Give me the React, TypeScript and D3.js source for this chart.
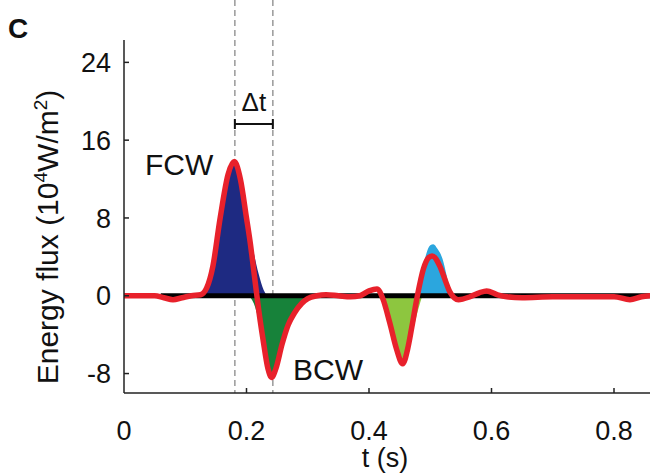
import React from "react";
import * as d3 from "d3";

type P = [number, number];

// Net energy flux (red line)
const netFlux: P[] = [
  [0, 0], [0.05, 0], [0.065, -0.2], [0.08, -0.4], [0.095, -0.2], [0.11, 0], [0.125, 0.1],
  [0.135, 0.8], [0.145, 3], [0.157, 8], [0.17, 12.5], [0.18, 13.8], [0.19, 12], [0.2, 8],
  [0.206, 5.5], [0.214, 1.5], [0.22, -1.5], [0.227, -4.5], [0.235, -7.5], [0.241, -8.4],
  [0.248, -7.5], [0.258, -5], [0.268, -3], [0.278, -1.8], [0.29, -0.8], [0.3, -0.3],
  [0.315, 0], [0.33, 0.1], [0.35, 0], [0.37, -0.1], [0.385, 0], [0.4, 0.5], [0.413, 0.7],
  [0.422, -0.2], [0.434, -2.8], [0.445, -5.5], [0.455, -7], [0.463, -5.5], [0.47, -3.2],
  [0.479, 0], [0.489, 2.8], [0.497, 3.9], [0.503, 4.1], [0.516, 3], [0.525, 1.5],
  [0.532, 0.4], [0.546, -0.4], [0.565, -0.1], [0.58, 0.3], [0.592, 0.5], [0.61, 0.1],
  [0.625, -0.1], [0.65, -0.2], [0.7, -0.1], [0.75, -0.1], [0.8, -0.1], [0.826, -0.4],
  [0.845, -0.1], [0.86, 0],
];

// Forward compression wave (navy fill)
const fcw: P[] = [
  [0.125, 0], [0.135, 0.8], [0.145, 3], [0.157, 8], [0.17, 12.5], [0.18, 13.6], [0.19, 12],
  [0.2, 8.5], [0.21, 5], [0.22, 2.2], [0.228, 0.6], [0.234, 0],
];

// Backward compression wave (dark green fill)
const bcw: P[] = [
  [0.203, 0], [0.212, -0.8], [0.22, -2.5], [0.227, -4.5], [0.235, -7.3], [0.241, -8.3],
  [0.248, -7.5], [0.258, -5], [0.268, -3], [0.278, -1.8], [0.29, -0.8], [0.3, -0.3], [0.31, 0],
];

// Second backward wave (light green fill)
const bw2: P[] = [
  [0.413, 0], [0.425, -1], [0.434, -2.8], [0.445, -5.3], [0.455, -6.9], [0.463, -5.5],
  [0.472, -3.5], [0.48, -1.5], [0.487, 0],
];

// Second forward wave (light blue fill)
const fw2: P[] = [
  [0.48, 0], [0.486, 2], [0.493, 4.2], [0.5, 5.2], [0.505, 5.3], [0.512, 4.8], [0.52, 3.8],
  [0.527, 2], [0.532, 0.5], [0.535, 0],
];

const xTicks = [0, 0.2, 0.4, 0.6, 0.8];
const yTicks = [-8, 0, 8, 16, 24];
const markers = [0.181, 0.243];

export default function App() {
  const W = 650, H = 476;
  const x = d3.scaleLinear().domain([0, 0.86]).range([124, 650.75]);
  const y = d3.scaleLinear().domain([-10, 26.3]).range([393, 40]);

  const area = d3.area<P>().x(d => x(d[0])).y0(y(0)).y1(d => y(d[1])).curve(d3.curveMonotoneX);
  const line = d3.line<P>().x(d => x(d[0])).y(d => y(d[1])).curve(d3.curveMonotoneX);

  const font = "'Liberation Sans', Arial, sans-serif";
  const x0 = x(0), yb = y(-10);

  return (
    <svg width={W} height={H} style={{ position: "absolute", left: 0, top: 0, background: "#fff" }} fontFamily={font}>
      <text x={8} y={38} fontSize={28} fontWeight="bold" fill="#111">C</text>

      {/* dashed markers */}
      {markers.map((m, i) => (
        <line key={i} x1={x(m)} x2={x(m)} y1={0} y2={yb} stroke="#999" strokeWidth={1.5} strokeDasharray="6,4" />
      ))}

      {/* fills */}
      <path d={area(fcw) || ""} fill="#1e2a82" />
      <path d={area(bcw) || ""} fill="#17823a" />
      <path d={area(bw2) || ""} fill="#8dc63f" />
      <path d={area(fw2) || ""} fill="#2ba6de" />

      {/* zero line */}
      <line x1={x(0.06)} x2={x(0.86)} y1={y(0)} y2={y(0)} stroke="#000" strokeWidth={5} />

      {/* net flux */}
      <path d={line(netFlux) || ""} fill="none" stroke="#e8212b" strokeWidth={5.5} strokeLinejoin="round" />

      {/* axes */}
      <line x1={x0} x2={x0} y1={y(26.3)} y2={yb} stroke="#222" strokeWidth={1.5} />
      <line x1={x0} x2={650} y1={yb} y2={yb} stroke="#222" strokeWidth={1.5} />
      {yTicks.map(t => (
        <g key={"y" + t}>
          <line x1={x0} x2={x0 + 5} y1={y(t)} y2={y(t)} stroke="#222" strokeWidth={1.5} />
          <text x={111} y={y(t)} dy="0.36em" textAnchor="end" fontSize={27} fill="#111">{t}</text>
        </g>
      ))}
      {xTicks.map(t => (
        <g key={"x" + t}>
          {t > 0 && <line x1={x(t)} x2={x(t)} y1={yb} y2={yb - 5} stroke="#222" strokeWidth={1.5} />}
          <text x={x(t)} y={440} textAnchor="middle" fontSize={27} fill="#111">{t}</text>
        </g>
      ))}

      {/* Δt bracket */}
      <g stroke="#111" strokeWidth={2}>
        <line x1={x(markers[0])} x2={x(markers[1])} y1={124} y2={124} />
        <line x1={x(markers[0])} x2={x(markers[0])} y1={119} y2={129} />
        <line x1={x(markers[1])} x2={x(markers[1])} y1={119} y2={129} />
      </g>
      <text x={(x(markers[0]) + x(markers[1])) / 2} y={111} textAnchor="middle" fontSize={26} fill="#111">Δt</text>

      <text x={145} y={175} fontSize={30} fill="#111">FCW</text>
      <text x={293} y={380} fontSize={30} fill="#111">BCW</text>

      <text x={385} y={467} textAnchor="middle" fontSize={27} fill="#111">t (s)</text>

      <text transform="translate(58,237) rotate(-90)" textAnchor="middle" fontSize={30} fill="#111">
        Energy flux (10<tspan dy="-11" fontSize={19}>4</tspan><tspan dy="11">W/m</tspan><tspan dy="-11" fontSize={19}>2</tspan><tspan dy="11">)</tspan>
      </text>
    </svg>
  );
}
